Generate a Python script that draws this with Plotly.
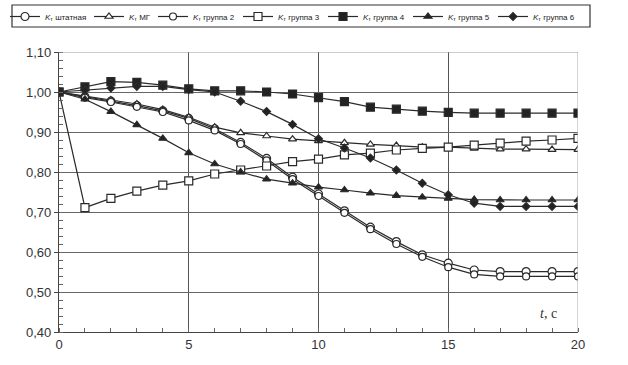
import plotly.graph_objects as go

t = list(range(0, 21))

k_shtat = [1.00, 0.988, 0.977, 0.966, 0.953, 0.934, 0.908, 0.874, 0.834, 0.787, 0.745, 0.703, 0.662, 0.626, 0.593, 0.572, 0.555, 0.551, 0.551, 0.551, 0.551]
k_mg = [1.00, 0.99, 0.98, 0.97, 0.956, 0.937, 0.912, 0.898, 0.89, 0.882, 0.878, 0.873, 0.869, 0.866, 0.862, 0.862, 0.859, 0.857, 0.857, 0.856, 0.856]
k_gr2 = [1.00, 0.986, 0.975, 0.963, 0.950, 0.929, 0.904, 0.870, 0.829, 0.782, 0.740, 0.698, 0.657, 0.620, 0.588, 0.562, 0.544, 0.539, 0.539, 0.539, 0.539]
k_gr3 = [1.00, 0.711, 0.734, 0.752, 0.767, 0.778, 0.795, 0.805, 0.815, 0.826, 0.832, 0.843, 0.847, 0.855, 0.859, 0.862, 0.867, 0.872, 0.877, 0.880, 0.884]
k_gr4 = [1.00, 1.013, 1.026, 1.024, 1.017, 1.008, 1.003, 1.003, 1.000, 0.995, 0.986, 0.976, 0.962, 0.957, 0.952, 0.949, 0.947, 0.947, 0.947, 0.947, 0.947]
k_gr5 = [1.00, 0.982, 0.951, 0.918, 0.884, 0.848, 0.820, 0.800, 0.782, 0.772, 0.762, 0.755, 0.747, 0.741, 0.737, 0.734, 0.731, 0.730, 0.730, 0.730, 0.730]
k_gr6 = [1.00, 1.005, 1.010, 1.014, 1.014, 1.006, 1.000, 0.977, 0.951, 0.919, 0.883, 0.860, 0.835, 0.805, 0.772, 0.743, 0.722, 0.714, 0.714, 0.714, 0.714]

names = [
    "<i>K</i><sub>т</sub> штатная",
    "<i>K</i><sub>т</sub> МГ",
    "<i>K</i><sub>т</sub> группа 2",
    "<i>K</i><sub>т</sub> группа 3",
    "<i>K</i><sub>т</sub> группа 4",
    "<i>K</i><sub>т</sub> группа 5",
    "<i>K</i><sub>т</sub> группа 6",
]
series = [k_shtat, k_mg, k_gr2, k_gr3, k_gr4, k_gr5, k_gr6]
symbols = ["circle", "triangle-up", "circle", "square", "square", "triangle-up", "diamond"]
fills = ["white", "white", "white", "white", "#222", "#222", "#222"]
sizes = [8, 7, 7, 8, 8, 7, 6]

# legend entry left edges (pixels) -> one small legend per series
legend_px = [5, 89, 153, 238, 323, 408, 493]

W, H = 628, 365
ML, MR, MT, MB = 59, 50, 52, 33
PW, PH = W - ML - MR, H - MT - MB

def px_to_paper_x(px):
    return (px - ML) / PW

def px_to_paper_y(py):
    return 1 + (MT - py) / PH

ink = "#2a2a2a"
fig = go.Figure()
legend_layouts = {}
for i, (name, ys, sym, fc, sz) in enumerate(zip(names, series, symbols, fills, sizes)):
    lg = "legend" if i == 0 else f"legend{i+1}"
    fig.add_trace(go.Scatter(
        x=t, y=ys, name=name, mode="lines+markers", legend=lg,
        line=dict(color=ink, width=1.2),
        marker=dict(symbol=sym, size=sz, color=fc, line=dict(color=ink, width=1.2)),
    ))
    legend_layouts[lg] = dict(
        orientation="h", x=px_to_paper_x(legend_px[i]), y=px_to_paper_y(16.5),
        xanchor="left", yanchor="middle", borderwidth=0, bgcolor="rgba(0,0,0,0)",
        font=dict(size=8, color="#222"), itemwidth=30,
    )

fig.add_annotation(x=18.85, y=0.447, xref="x", yref="y", text="<i>t</i>, с",
                   showarrow=False, font=dict(size=14, color="#333", family="Liberation Serif"))

fig.add_shape(type="rect", xref="paper", yref="paper",
              x0=px_to_paper_x(12), x1=px_to_paper_x(590),
              y0=px_to_paper_y(27), y1=px_to_paper_y(5),
              line=dict(color="#333", width=1.2), fillcolor="rgba(0,0,0,0)", layer="below")

fig.update_layout(
    width=W, height=H,
    margin=dict(l=ML, r=MR, t=MT, b=MB, autoexpand=False),
    paper_bgcolor="white", plot_bgcolor="white",
    separators=", ",
    font=dict(family="Liberation Sans", color="#333", size=13),
    showlegend=True,
    xaxis=dict(
        range=[0, 20], tickvals=[0, 5, 10, 15, 20], showgrid=True,
        gridcolor="#555", gridwidth=1, zeroline=False,
        showline=True, linecolor="#444", linewidth=1.2, mirror=False,
        ticks="", tickfont=dict(size=13, color="#333"),
        minor=dict(dtick=1, ticks="inside", ticklen=4, tickcolor="#666", showgrid=False),
    ),
    yaxis=dict(
        range=[0.40, 1.10], dtick=0.1, tickformat=".2f", showgrid=True,
        gridcolor="#666", gridwidth=1, zeroline=False,
        showline=True, linecolor="#444", linewidth=1.2,
        ticks="outside", ticklen=4, tickcolor="#444",
        tickfont=dict(size=13, color="#333"),
        minor=dict(dtick=0.02, ticks="inside", ticklen=4, tickcolor="#666", showgrid=False),
    ),
    **legend_layouts,
)
fig.add_shape(type="line", xref="x", yref="y", x0=20, x1=20, y0=0.40, y1=1.10,
              line=dict(color="#aaa", width=1))
fig.add_shape(type="line", xref="x", yref="y", x0=0, x1=20, y0=1.10, y1=1.10,
              line=dict(color="#999", width=1))

fig.write_html("out.html")
